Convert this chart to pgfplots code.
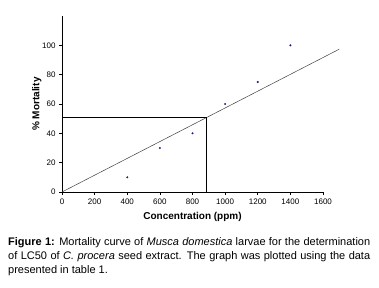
\documentclass[border=0pt]{standalone}
\usepackage{pgfplots}
\pgfplotsset{compat=1.18}
\usepackage{fontspec}
\setmainfont{Liberation Sans}
\begin{document}
\begin{tikzpicture}
\path[use as bounding box] (0,0) rectangle (379pt,288pt);
\begin{axis}[
  at={(62pt,96pt)}, anchor=south west,
  scale only axis, width=261pt, height=176pt,
  xmin=0, xmax=1600, ymin=0, ymax=120,
  axis x line*=bottom, axis y line*=left,
  clip=false,
  xtick={0,200,...,1600}, ytick={0,20,...,100},
  tick align=outside, major tick length=3pt,
  tick style={black, line width=0.6pt},
  axis line style={black, line width=0.8pt},
  /pgf/number format/assume math mode=true,
  /pgf/number format/1000 sep={},
  tick label style={font=\fontsize{8}{9}\selectfont},
  xlabel={\textbf{Concentration (ppm)}},
  ylabel={\textbf{\% Mortality}},
  label style={font=\fontsize{10}{12}\selectfont},
  xlabel style={at={(axis description cs:0.5,0)}, anchor=north, yshift=-17pt},
  ylabel style={at={(axis description cs:0,0.5)}, anchor=south, rotate=0, xshift=0pt, yshift=17pt},
]
\addplot[only marks, mark=*, mark size=0.8pt, color={rgb,255:red,30;green,30;blue,130}] coordinates {
  (400,10) (600,30) (800,40) (1000,60) (1200,75) (1400,100)
};
\addplot[color=black!75, line width=0.5pt] coordinates {(0,0) (1700,97.4)};
\addplot[black, line width=0.7pt] coordinates {(0,50.7) (885,50.7) (885,0)};
\end{axis}
\node[anchor=north west, inner sep=0pt, text width=362pt, align=justify,
  font=\fontsize{11}{14.3}\selectfont] at (8pt,51pt)
  {\textbf{Figure 1:} Mortality curve of \textit{Musca domestica} larvae for the determination of LC50 of \textit{C.\ procera} seed extract. The graph was plotted using the data presented in table 1.};
\end{tikzpicture}
\end{document}
